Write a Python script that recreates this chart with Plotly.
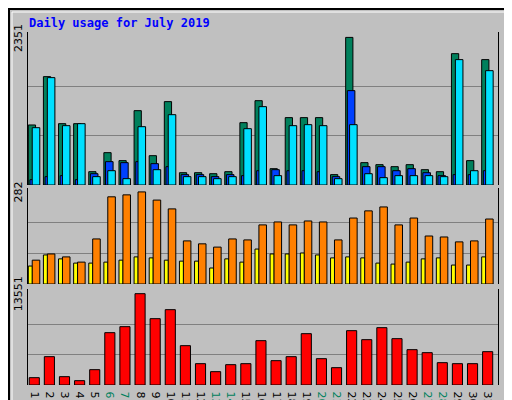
import plotly.graph_objects as go

days = list(range(1, 32))
hits = [956, 1726, 977, 977, 212, 515, 388, 1184, 467, 1328, 196, 196, 180, 212, 993, 1343,
        260, 1073, 1073, 1073, 165, 2351, 356, 324, 292, 324, 244, 212, 2092, 388, 1997]
files = [85, 133, 149, 85, 180, 372, 356, 372, 340, 292, 165, 165, 133, 165, 149, 228,
         244, 228, 228, 212, 133, 1503, 292, 292, 228, 260, 196, 149, 165, 165, 228]
pages = [913, 1710, 945, 977, 133, 228, 101, 929, 244, 1120, 133, 133, 101, 133, 897, 1248,
         149, 945, 961, 945, 101, 961, 180, 117, 149, 149, 149, 133, 1997, 228, 1821]
sites = [73, 92, 83, 67, 138, 267, 273, 282, 257, 230, 132, 123, 113, 138, 135, 181,
         190, 181, 193, 190, 135, 202, 224, 236, 181, 202, 147, 144, 129, 132, 199]
visits = [55, 89, 77, 64, 64, 67, 73, 83, 80, 73, 70, 70, 49, 77, 67, 107,
          92, 92, 95, 89, 80, 83, 80, 64, 61, 67, 77, 80, 58, 58, 83]
kbytes = [1088, 4204, 1237, 643, 2275, 7765, 8655, 13551, 9843, 11178, 5836, 3165, 1978, 3017,
          3165, 6578, 3611, 4204, 7617, 3907, 2572, 8062, 6727, 8507, 6875, 5243, 4798, 3314,
          3165, 3165, 4946]
weekend = [6, 7, 13, 14, 20, 21, 27, 28]
max_hits, max_sites, max_kb = 2351, 282, 13551

fig = go.Figure()
line = dict(color="black", width=1)

def add(y, color, off, w, ax):
    fig.add_trace(go.Bar(x=days, y=y, marker=dict(color=color, line=line),
                         offset=off, width=w, xaxis="x", yaxis=ax, showlegend=False))

add(hits, "#00805c", -0.53, 0.48, "y")
add(files, "#0040ff", -0.42, 0.5, "y")
add(pages, "#00e0ff", -0.27, 0.5, "y")
add(visits, "#ffff00", -0.53, 0.27, "y2")
add(sites, "#ff8000", -0.27, 0.5, "y2")
add(kbytes, "#ff0000", -0.47, 0.67, "y3")

ticktext = [f"<span style='color:#00805c'>{d}</span>" if d in weekend else str(d) for d in days]

def yax(dom, mx, top):
    return dict(domain=dom, range=[0, top], tickvals=[mx / 3, mx * 2 / 3], showticklabels=False,
                ticks="", gridcolor="#808080", gridwidth=1, zeroline=False, automargin=False,
                showline=True, mirror=True, linecolor="black", linewidth=1, anchor="x")

# plot area in pixels: x 20..490, y 24..377
W, H = 470, 353
def px(x):
    return (x - 20) / W
def py(y):
    return (377 - y) / H

fig.update_layout(
    width=512, height=400, barmode="overlay",
    margin=dict(l=20, r=22, t=24, b=23, autoexpand=False),
    paper_bgcolor="#c0c0c0", plot_bgcolor="#c0c0c0",
    font=dict(family="DejaVu Sans", size=11, color="black"),
    xaxis=dict(range=[0.45, 31.55], tickvals=days, ticktext=ticktext, showgrid=False,
               anchor="y3", automargin=False, ticks="", zeroline=False, tickfont=dict(size=11)),
    yaxis=yax([py(177), 1], max_hits, 2437),
    yaxis2=yax([py(276), py(180)], max_sites, 294),
    yaxis3=yax([0, py(281)], max_kb, 14245),
)

mono = "DejaVu Sans Mono"
fig.add_annotation(text="<b>Daily usage for July 2019</b>", xref="paper", yref="paper",
                   x=px(19), y=py(15), xanchor="left", yanchor="middle", showarrow=False,
                   font=dict(family=mono, size=12, color="#0000ff"))
for ax, v in [("y", max_hits), ("y2", max_sites), ("y3", max_kb)]:
    fig.add_annotation(text=str(v), xref="paper", yref=ax, x=px(19), y=v, xanchor="right",
                       yanchor="middle", textangle=-90, showarrow=False,
                       font=dict(family="DejaVu Sans", size=11))
right = [
    ("y", "<span style='color:#00e0ff'>Pages</span> / <span style='color:#0040ff'>Files</span> / <span style='color:#00805c'>Hits</span>", 1.0),
    ("y2", "<span style='color:#ff8000'>Sites</span> / <span style='color:#ffff00'>Visits</span>", 1.0),
    ("y3", "<span style='color:#ff0000'>KBytes</span>", 0.0),
]
for ax, t, yy in right:
    fig.add_annotation(text=t, xref="paper", yref=ax + " domain", x=px(493), y=yy,
                       xanchor="left", yanchor="top" if yy == 1.0 else "bottom",
                       textangle=-90, showarrow=False,
                       font=dict(family=mono, size=11, color="black"))

fig.add_shape(type="rect", xref="paper", yref="paper", x0=px(4), x1=px(508), y0=py(396), y1=py(4),
              line=dict(color="white", width=1))
fig.add_shape(type="rect", xref="paper", yref="paper", x0=px(1), x1=px(511), y0=py(399), y1=py(1),
              line=dict(color="black", width=2))

fig.write_html("out.html")
